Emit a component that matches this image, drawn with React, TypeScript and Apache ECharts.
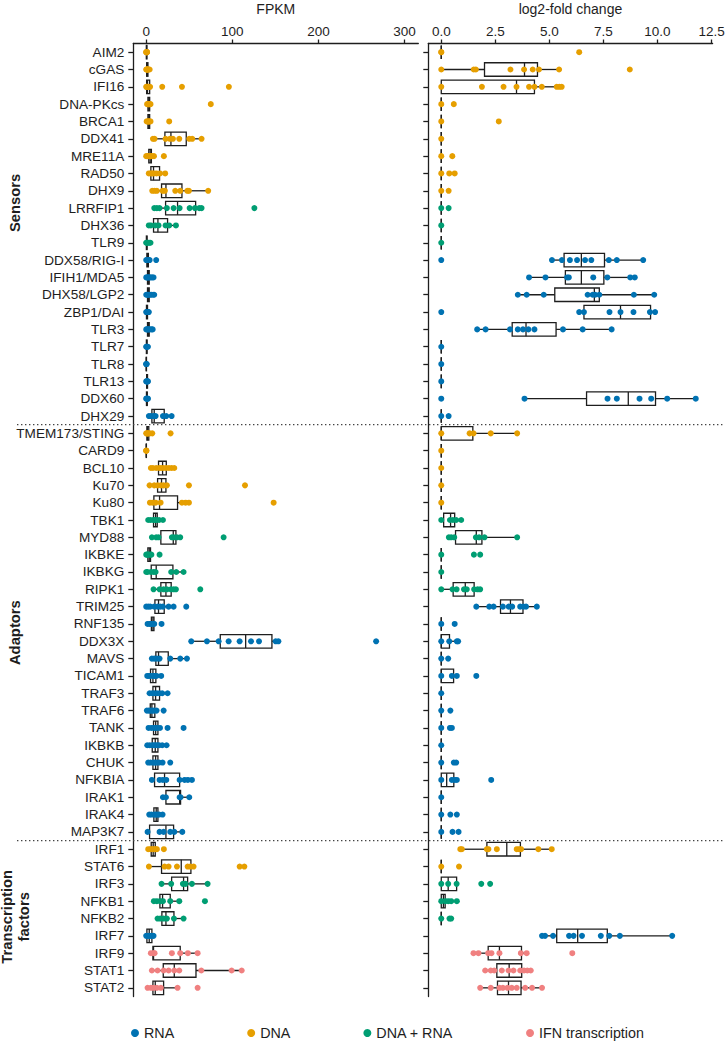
import React, { useEffect, useRef } from 'react';
import * as echarts from 'echarts';

const categories = [
  'AIM2', 'cGAS', 'IFI16', 'DNA-PKcs', 'BRCA1', 'DDX41', 'MRE11A', 'RAD50', 'DHX9', 'LRRFIP1', 'DHX36', 'TLR9',
  'DDX58/RIG-I', 'IFIH1/MDA5', 'DHX58/LGP2', 'ZBP1/DAI', 'TLR3', 'TLR7', 'TLR8', 'TLR13', 'DDX60', 'DHX29',
  'TMEM173/STING', 'CARD9', 'BCL10', 'Ku70', 'Ku80', 'TBK1', 'MYD88', 'IKBKE', 'IKBKG', 'RIPK1', 'TRIM25', 'RNF135',
  'DDX3X', 'MAVS', 'TICAM1', 'TRAF3', 'TRAF6', 'TANK', 'IKBKB', 'CHUK', 'NFKBIA', 'IRAK1', 'IRAK4', 'MAP3K7',
  'IRF1', 'STAT6', 'IRF3', 'NFKB1', 'NFKB2', 'IRF7', 'IRF9', 'STAT1', 'STAT2',
];

// source group index per category: 0 RNA, 1 DNA, 2 DNA + RNA, 3 IFN transcription
const categoryGroup = [
  1, 1, 1, 1, 1, 1, 1, 1, 1, 2, 2, 2,
  0, 0, 0, 0, 0, 0, 0, 0, 0, 0,
  1, 1, 1, 1, 1, 2, 2, 2, 2, 2, 0, 0,
  0, 0, 0, 0, 0, 0, 0, 0, 0, 0, 0, 0,
  1, 1, 2, 2, 2, 0, 3, 3, 3,
];

const legendNames = ['RNA', 'DNA', 'DNA + RNA', 'IFN transcription'];
const legendColors = ['#0072B2', '#E69F00', '#009E73', '#F08080'];

const fpkmTicks = [0, 100, 200, 300];
const lfcTicks = [0, 2.5, 5, 7.5, 10, 12.5];

const groupNames = [['Sensors'], ['Adaptors'], ['Transcription', 'factors']];
const groupCenters = [8.7, 33.5, 49.9];
const groupSeparators = [21.5, 45.5];

// FPKM: sample values per category
const fpkmPoints = [
  [0, 0.3, 0.6, 1.0, 0.2, 0.8],
  [0, 0.5, 1, 1.5, 2, 3, 4, 1.2, 0.8],
  [0, 0.5, 1, 2, 3, 4.5, 18.6, 41.5, 96],
  [1, 2, 2.5, 3, 3.5, 4, 5, 75],
  [0.5, 1.5, 2.5, 3, 4, 5, 26.7],
  [7.8, 9.7, 22.5, 27.5, 31, 38.4, 50, 53.5, 64.3],
  [0, 1.5, 3, 4.5, 5, 6.5, 9, 20.5],
  [3, 5.4, 7, 9, 12, 16, 22],
  [7, 9.7, 12.4, 19, 21.7, 33.7, 39.5, 47.7, 49.6, 72],
  [9.3, 12.4, 15.5, 24, 31.8, 38.8, 50.4, 56.6, 61.6, 64.3, 125.6],
  [3, 5.4, 10.5, 14.3, 22.5, 26.7, 34.5],
  [0, 0.5, 1.5, 2.5, 4, 5],
  [0, 1, 1.5, 2, 3, 4, 11.6],
  [0, 1, 2, 3, 4, 5.5, 7, 8.5],
  [0, 1, 2, 3, 4.5, 6, 8, 9.3],
  [0, 0.5, 1, 1.5, 2.5, 3],
  [0, 1, 2, 3, 4, 6, 7.5],
  [0, 0.3, 0.8, 1.2, 2],
  [0, 0.1, 0.3, 0.5],
  [0, 0.5, 1, 1.5, 2],
  [0, 0.5, 1, 1.5, 2],
  [3.1, 5.4, 8.5, 10.9, 19.4, 23.3, 29.5],
  [0, 1, 1.5, 2.5, 4, 7, 28.3],
  [0, 0.1, 0.2],
  [5.4, 7.8, 11.6, 15.1, 17.4, 20.2, 23.3, 26.4, 29.5, 32.6],
  [3.9, 9.3, 13.2, 17, 20.2, 24, 49.6, 114.7],
  [4.3, 7.4, 10.9, 16.7, 41.5, 45.7, 49.6, 148],
  [2.3, 5, 8, 10, 12, 15, 19.4],
  [6.6, 11.6, 14.3, 29.8, 32.2, 35.7, 39.5, 89.9],
  [0, 1, 2, 3, 5, 6, 15.5],
  [0, 1.6, 5.4, 8.5, 10.9, 29, 34.9, 43.4],
  [8.5, 15.5, 20.2, 24, 28.7, 31.8, 34.5, 62.8],
  [0, 2.3, 4.6, 9.3, 13.2, 16.3, 19.4, 26, 31.8, 46.5],
  [1.6, 4, 6, 7.8, 9.3, 17.8],
  [52.3, 70.5, 84.1, 95.7, 108.5, 121.7, 131, 150.4, 153.5, 267],
  [6.6, 9.3, 12.4, 15.5, 27.9, 39.5, 47.3],
  [1.2, 3, 5, 8, 10, 12, 17.4],
  [3.9, 7, 9.3, 12.4, 15.5, 18.6, 24.8],
  [0.8, 3, 5, 7, 9, 12, 20.2],
  [2.7, 6, 9, 11, 13, 16, 24.8, 43.4],
  [1.2, 4, 7, 9, 11, 13, 15, 18.6, 23.6],
  [2.3, 5, 8, 10, 12, 15, 19, 27.9],
  [6.6, 15.5, 19.4, 23.3, 38.8, 44.6, 48.4, 53.1],
  [19.4, 22.9, 38.8, 39.9, 50],
  [3.5, 6, 9, 11, 13, 15, 19],
  [1.6, 15.5, 20.2, 27.9, 32.6, 41.9],
  [2.3, 5, 7, 9, 11, 12.4, 20.5],
  [3.1, 21.3, 26, 35.7, 48.1, 51.2, 55, 108.5, 114],
  [17.8, 29, 42.6, 45.7, 53.1, 71.3],
  [8.9, 12.4, 16.3, 19.4, 27.9, 38.4, 68.2],
  [13.2, 16.3, 20.2, 24, 32.2, 43.4],
  [0, 2, 4, 6, 8.5],
  [5.4, 8.5, 9.7, 29.8, 39.5, 48.4, 59.7],
  [6.6, 13.2, 20.2, 26, 32.6, 38.4, 64, 99.2, 110.9],
  [1.6, 5.4, 8.5, 12.4, 17, 36.4, 59.7],
];

// FPKM box statistics: [whisker low, Q1, median, Q3, whisker high]
const fpkmBoxes = [
  [0, 0.2, 0.4, 0.8, 1], [0, 0.5, 1.2, 2, 4], [0, 0.5, 1.5, 4, 4.5], [1, 2, 3, 4, 5], [0.5, 2, 3, 4, 5],
  [7.8, 21.7, 28.7, 46.5, 64.3], [0, 3, 4.6, 6, 9], [3, 5.4, 8.5, 15.5, 22], [7, 17.8, 22.9, 41.5, 72],
  [9.3, 22.5, 36.4, 57.4, 64.3], [3.1, 8.5, 13.6, 24.8, 34.5], [0, 0.2, 0.5, 1, 2], [0, 0.8, 1.5, 2.5, 4],
  [0, 1.5, 2.5, 3.5, 8.5], [0, 1.5, 2.5, 3.5, 9.3], [0, 0.3, 0.8, 1.5, 3], [0, 1.5, 2.5, 3.5, 7.5],
  [0, 0.2, 0.5, 1, 2], [0, 0, 0.1, 0.3, 0.5], [0, 0.5, 1, 1.5, 2], [0, 0.3, 0.8, 1.2, 2],
  [3.1, 6.6, 9.3, 20.9, 29.5], [0, 0.8, 1.5, 3, 7], [0, 0, 0.1, 0.2, 0.2], [5.4, 14.3, 19, 23.3, 32.6],
  [3.9, 13.2, 17.8, 22.9, 24], [4.3, 8.9, 15.5, 36.4, 49.6], [2.3, 8.5, 10.9, 12.8, 19.4],
  [6.6, 17, 31.4, 34.5, 39.5], [0, 1.9, 3.5, 5, 8], [0, 5.8, 11.6, 31, 43.4], [8.5, 17, 22.9, 29, 34.5],
  [0, 10.1, 14.3, 20.9, 31.8], [1.6, 6, 7.8, 9, 9.3], [52.3, 86, 115.5, 146, 155],
  [6.6, 11.2, 14.3, 25.6, 47.3], [1.2, 5, 7.8, 11.2, 17.4], [3.9, 7.8, 10.9, 15.5, 24.8],
  [0.8, 4.7, 6.6, 10, 12], [2.7, 8.5, 11, 13.6, 16], [1.2, 7, 10.5, 13.6, 18.6], [2.3, 7.8, 10.9, 13.6, 19],
  [6.6, 9.7, 21.3, 38.8, 53.1], [19.4, 22.9, 38.8, 39.9, 50], [3.5, 8.9, 11.6, 13.6, 19],
  [1.6, 3.9, 22.9, 31.8, 41.9], [2.3, 5.8, 8.1, 10.5, 12.4], [3.1, 17.8, 40.7, 51.9, 55.8],
  [17.8, 29.5, 43.4, 48.1, 71.3], [8.9, 15.9, 19, 27.9, 38.4], [13.2, 18.2, 22.9, 32.2, 43.4],
  [0, 0.8, 3.5, 6.6, 8.5], [5.4, 7.8, 8.5, 39.5, 59.7], [6.6, 19.8, 32.6, 57.8, 110.9],
  [1.6, 7.8, 10.5, 20.2, 36.4],
];

// log2-fold change: sample values per category
const lfcPoints = [
  [0, 0, 6.38],
  [0, 1.5, 1.6, 3.2, 3.83, 4.23, 4.52, 5.45, 8.72],
  [0, 1.88, 2.88, 3.48, 4.06, 4.31, 4.65, 5.34, 5.46, 5.57],
  [0, 0.58], [0, 2.66], [0], [0, 0.51], [0, 0.37, 0.62], [0, 0.34], [0, 0.34], [0], [0],
  [0, 5.12, 5.58, 5.95, 6.28, 6.65, 6.94, 7.75, 8.12, 9.34],
  [4.06, 4.82, 5.82, 5.9, 7.03, 7.68, 8.74, 8.95],
  [3.54, 3.95, 4.74, 6.77, 7.0, 7.12, 7.31, 8.91, 9.85],
  [0, 6.38, 6.6, 7.78, 8.29, 8.89, 9.65, 9.89],
  [1.66, 2.05, 3.18, 3.54, 3.78, 4.03, 4.31, 5.63, 6.54, 7.88],
  [0], [0], [0],
  [0, 3.85, 7.69, 8.12, 9.17, 9.71, 10.45, 11.77],
  [0, 0.34],
  [0, 1.31, 1.49, 2.29, 3.51],
  [0], [0], [0], [0],
  [0, 0.4, 0.54, 0.69, 0.92],
  [0.35, 0.46, 0.6, 1.6, 1.75, 2.0, 3.51],
  [0, 1.51, 1.8],
  [0],
  [0, 0.52, 0.71, 1.05, 1.18, 1.52, 1.68, 1.8],
  [1.62, 2.22, 2.42, 2.85, 3.12, 3.28, 3.65, 3.8, 3.92, 4.42],
  [0, 0.62],
  [0, 0.37, 0.72, 0.78],
  [0, 0.32],
  [0, 0.49, 0.72, 1.62],
  [0], [0, 0.42], [0, 0.4, 0.49], [0], [0, 0.58, 0.69],
  [0, 0.49, 0.62, 0.72, 2.31],
  [0], [0, 0.42, 0.72], [0, 0.52, 0.8],
  [0.88, 0.95, 2.11, 2.18, 2.57, 3.49, 3.6, 3.69, 4.49, 5.11],
  [0, 0.82],
  [0, 0.32, 0.71, 1.85, 2.26],
  [0, 0.18, 0.32, 0.46, 0.72],
  [0, 0.38, 0.46],
  [4.66, 4.8, 5.17, 5.91, 6.12, 6.51, 7.38, 7.77, 8.26, 10.68],
  [1.49, 1.72, 2.17, 2.32, 2.69, 3.68, 3.95, 6.06],
  [2.03, 2.29, 2.45, 2.8, 3.11, 3.34, 3.65, 3.83, 3.98, 4.14],
  [1.8, 2.29, 2.69, 2.85, 3.06, 3.26, 3.49, 3.88, 4.2, 4.66],
];

const lfcBoxes = [
  [0, 0, 0, 0, 0], [0, 2.0, 3.85, 4.45, 5.45], [0, 0, 3.48, 4.31, 5.57], [0, 0, 0, 0, 0], [0, 0, 0, 0, 0],
  [0, 0, 0, 0, 0], [0, 0, 0, 0, 0], [0, 0, 0, 0, 0], [0, 0, 0, 0, 0], [0, 0, 0, 0, 0], [0, 0, 0, 0, 0],
  [0, 0, 0, 0, 0], [5.12, 5.68, 6.48, 7.55, 9.34], [4.06, 5.74, 6.48, 7.52, 8.95],
  [3.54, 5.25, 7.08, 7.31, 9.85], [6.38, 6.6, 8.29, 9.68, 9.89], [1.66, 3.28, 3.92, 5.31, 7.88],
  [0, 0, 0, 0, 0], [0, 0, 0, 0, 0], [0, 0, 0, 0, 0], [3.85, 6.72, 8.65, 9.91, 11.77], [0, 0, 0, 0, 0],
  [0, 0, 0, 1.46, 3.51], [0, 0, 0, 0, 0], [0, 0, 0, 0, 0], [0, 0, 0, 0, 0], [0, 0, 0, 0, 0],
  [0, 0.11, 0.43, 0.62, 0.92], [0.35, 0.66, 1.62, 1.88, 3.51], [0, 0, 0, 0, 0], [0, 0, 0, 0, 0],
  [0, 0.55, 1.11, 1.52, 1.8], [1.62, 2.74, 3.2, 3.78, 4.42], [0, 0, 0, 0, 0], [0, 0, 0, 0.38, 0.78],
  [0, 0, 0, 0, 0], [0, 0, 0, 0.57, 0.72], [0, 0, 0, 0, 0], [0, 0, 0, 0, 0], [0, 0, 0, 0, 0],
  [0, 0, 0, 0, 0], [0, 0, 0, 0, 0], [0, 0, 0.25, 0.58, 0.72], [0, 0, 0, 0, 0], [0, 0, 0, 0, 0],
  [0, 0, 0, 0, 0], [0.88, 2.11, 3.03, 3.66, 5.11], [0, 0, 0, 0, 0], [0, 0, 0.32, 0.71, 0.71],
  [0, 0, 0.1, 0.18, 0.3], [0, 0, 0, 0, 0], [4.66, 5.34, 6.31, 7.68, 10.68], [1.49, 2.17, 2.69, 3.71, 3.95],
  [2.03, 2.57, 3.14, 3.72, 4.14], [1.8, 2.6, 3.11, 3.69, 4.66],
];

const FONT = '"Liberation Sans", Arial, Helvetica, sans-serif';
const INK = '#1e1e1e';

function boxRender(params: any, api: any) {
  const idx = api.value(0);
  const vals = [api.value(1), api.value(2), api.value(3), api.value(4), api.value(5)];
  const xs = vals.map((v: number) => api.coord([v, idx])[0]);
  const yc = api.coord([vals[2], idx])[1];
  const h = api.size([0, 1])[1] * 0.39;
  const style = { stroke: INK, lineWidth: 1.3, fill: 'none' };
  return {
    type: 'group',
    children: [
      { type: 'line', shape: { x1: xs[0], y1: yc, x2: xs[1], y2: yc }, style },
      { type: 'line', shape: { x1: xs[3], y1: yc, x2: xs[4], y2: yc }, style },
      {
        type: 'polygon',
        shape: { points: [[xs[1], yc - h], [xs[3], yc - h], [xs[3], yc + h], [xs[1], yc + h]] },
        style,
      },
      { type: 'line', shape: { x1: xs[2], y1: yc - h, x2: xs[2], y2: yc + h }, style },
    ],
  };
}

function buildScatter(points: number[][], gridIdx: number) {
  return legendNames.map((name, g) => ({
    type: 'scatter',
    name,
    xAxisIndex: gridIdx,
    yAxisIndex: gridIdx,
    symbol: 'circle',
    symbolSize: 6,
    z: 3,
    silent: true,
    itemStyle: { color: legendColors[g], opacity: 1 },
    data: points.flatMap((vals, i) => (categoryGroup[i] === g ? vals.map((v) => [v, i]) : [])),
  }));
}

function buildBoxes(boxes: number[][], gridIdx: number) {
  return {
    type: 'custom',
    xAxisIndex: gridIdx,
    yAxisIndex: gridIdx,
    z: 2,
    silent: true,
    renderItem: boxRender,
    encode: { x: [1, 2, 3, 4, 5], y: 0 },
    data: boxes.map((b, i) => [i, ...b]),
  };
}

function xAxisCfg(gridIndex: number, name: string, min: number, max: number, ticks: number[], fmt: (v: number) => string) {
  return {
    type: 'value',
    gridIndex,
    position: 'top',
    min,
    max,
    name,
    nameLocation: 'middle',
    nameGap: 28,
    nameTextStyle: { fontSize: 14, color: INK, fontFamily: FONT },
    axisLine: { show: true, onZero: false, lineStyle: { color: INK, width: 1.3 } },
    axisTick: { show: true, length: 4, customValues: ticks, lineStyle: { color: INK, width: 1.3 } },
    axisLabel: { customValues: ticks, fontSize: 13.5, color: INK, margin: 5, formatter: fmt, fontFamily: FONT },
    splitLine: { show: false },
  };
}

function yAxisCfg(gridIndex: number, showLabels: boolean) {
  return {
    type: 'category',
    gridIndex,
    data: categories,
    inverse: true,
    axisLine: { show: true, onZero: false, lineStyle: { color: INK, width: 1.3 } },
    axisTick: { show: true, length: 5, alignWithLabel: true, lineStyle: { color: INK, width: 1.3 } },
    axisLabel: { show: showLabels, interval: 0, fontSize: 13.6, color: INK, margin: 9, fontFamily: FONT },
    splitLine: { show: false },
  };
}

export default function App() {
  const ref = useRef<HTMLDivElement>(null);
  useEffect(() => {
    if (!ref.current) return;
    const chart = echarts.init(ref.current, null, { renderer: 'svg' });
    const option: any = {
      animation: false,
      backgroundColor: '#ffffff',
      textStyle: { fontFamily: FONT },
      grid: [
        { left: 133.3, top: 43.5, width: 285, height: 953, containLabel: false, outerBoundsMode: 'none' },
        { left: 428.3, top: 43.5, width: 284.3, height: 953, containLabel: false, outerBoundsMode: 'none' },
      ],
      xAxis: [
        xAxisCfg(0, 'FPKM', -15, 316, fpkmTicks, (v: number) => String(v)),
        xAxisCfg(1, 'log2-fold change', -0.6, 12.55, lfcTicks, (v: number) => v.toFixed(1)),
      ],
      yAxis: [yAxisCfg(0, true), yAxisCfg(1, false)],
      legend: {
        data: legendNames,
        left: 131,
        top: 1026,
        padding: 0,
        itemGap: 73,
        itemWidth: 8,
        itemHeight: 8,
        icon: 'circle',
        selectedMode: false,
        textStyle: { fontSize: 14.3, color: INK, fontFamily: FONT },
      },
      series: [
        buildBoxes(fpkmBoxes, 0),
        buildBoxes(lfcBoxes, 1),
        ...buildScatter(fpkmPoints, 0),
        ...buildScatter(lfcPoints, 1),
      ],
    };
    chart.setOption(option);

    const y0 = chart.convertToPixel({ yAxisIndex: 0 }, 0) as unknown as number;
    const y1 = chart.convertToPixel({ yAxisIndex: 0 }, 1) as unknown as number;
    const step = y1 - y0;
    const yAt = (v: number) => y0 + v * step;

    const graphic: any[] = [];
    groupSeparators.forEach((s) => {
      graphic.push({
        type: 'line',
        silent: true,
        shape: { x1: 17, y1: yAt(s), x2: 723, y2: yAt(s) },
        style: { stroke: '#444', lineWidth: 1.2, lineDash: [1.4, 2.6] },
        z: 10,
      });
    });
    groupNames.forEach((lines, gi) => {
      const n = lines.length;
      lines.forEach((t, li) => {
        const x = n === 1 ? 14.5 : 7 + li * 16.5;
        graphic.push({
          type: 'text',
          silent: true,
          x,
          y: yAt(groupCenters[gi]),
          rotation: Math.PI / 2,
          style: {
            text: t,
            fontSize: 14.8,
            fontWeight: 'bold',
            fontFamily: FONT,
            fill: INK,
            align: 'center',
            verticalAlign: 'middle',
          },
        });
      });
    });
    chart.setOption({ graphic });

    return () => chart.dispose();
  }, []);
  return <div ref={ref} style={{ position: 'absolute', left: 0, top: 0, width: 725, height: 1042 }} />;
}
